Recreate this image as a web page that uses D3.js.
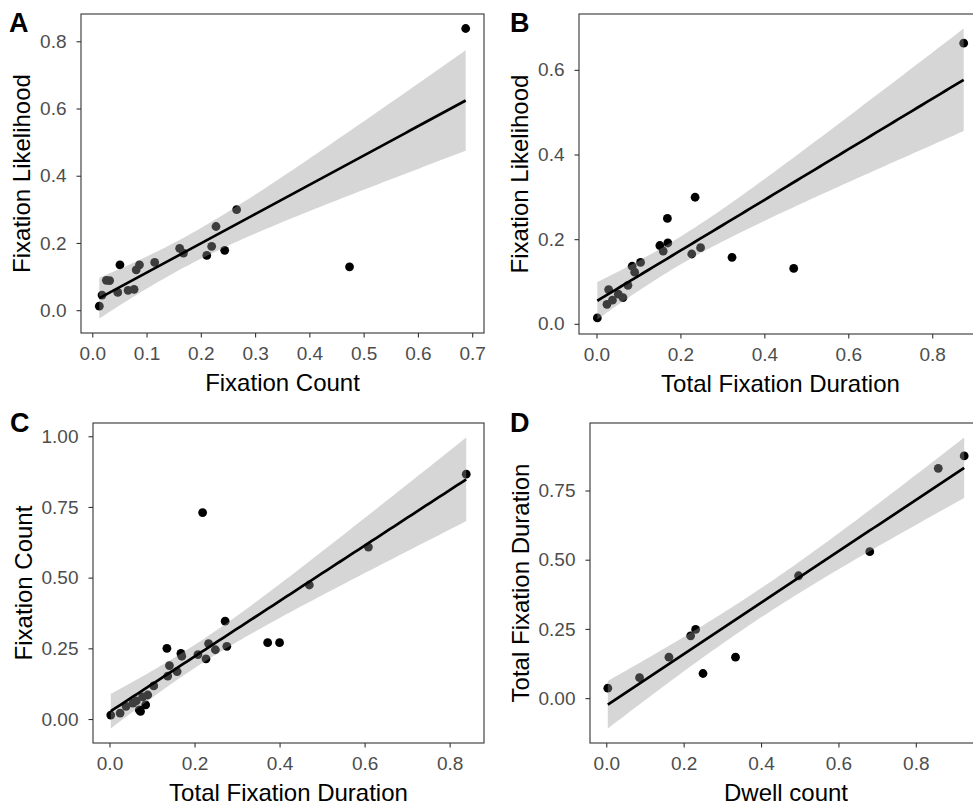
<!DOCTYPE html>
<html lang="en">
<head>
  <meta charset="UTF-8">
  <title>Fixation scatter plots</title>
  <script src="https://d3js.org/d3.v7.min.js"></script>
  <style>
    body { margin: 0; background: #fff; }
    svg { display: block; font-family: "Liberation Sans", Arial, sans-serif; }
  </style>
</head>
<body>
  <svg width="973" height="807"></svg>

  <script>
    // Panel A: Fixation Count vs Fixation Likelihood
    const aX = [0.688, 0.474, 0.266, 0.228, 0.244, 0.220, 0.211, 0.161, 0.168, 0.115,
                0.087, 0.081, 0.051, 0.026, 0.032, 0.047, 0.066, 0.077, 0.018, 0.013];
    const aY = [0.838, 0.129, 0.299, 0.249, 0.178, 0.190, 0.163, 0.184, 0.170, 0.142,
                0.135, 0.120, 0.135, 0.089, 0.088, 0.053, 0.059, 0.062, 0.045, 0.012];

    // Panel B: Total Fixation Duration vs Fixation Likelihood
    const bX = [0.875, 0.470, 0.323, 0.235, 0.227, 0.248, 0.169, 0.170, 0.151, 0.159,
                0.105, 0.085, 0.091, 0.075, 0.063, 0.052, 0.029, 0.038, 0.025, 0.002];
    const bY = [0.663, 0.131, 0.157, 0.299, 0.165, 0.180, 0.249, 0.191, 0.185, 0.172,
                0.145, 0.136, 0.122, 0.091, 0.062, 0.070, 0.081, 0.056, 0.046, 0.014];

    // Panel C: Total Fixation Duration vs Fixation Count
    const cX = [0.839, 0.219, 0.609, 0.470, 0.272, 0.372, 0.400, 0.276, 0.233, 0.249,
                0.227, 0.208, 0.135, 0.168, 0.170, 0.141, 0.137, 0.159, 0.104, 0.090,
                0.078, 0.085, 0.073, 0.070, 0.063, 0.055, 0.039, 0.025, 0.003];
    const cY = [0.866, 0.730, 0.608, 0.474, 0.346, 0.270, 0.270, 0.257, 0.267, 0.245,
                0.213, 0.228, 0.250, 0.232, 0.222, 0.189, 0.152, 0.168, 0.117, 0.085,
                0.078, 0.050, 0.027, 0.032, 0.064, 0.056, 0.045, 0.021, 0.014];

    // Panel D: Dwell count vs Total Fixation Duration
    const dX = [0.925, 0.858, 0.681, 0.497, 0.231, 0.218, 0.334, 0.250, 0.162, 0.086, 0.004];
    const dY = [0.875, 0.830, 0.529, 0.442, 0.248, 0.225, 0.148, 0.089, 0.148, 0.074, 0.036];

    // tick values
    const ticksTenth = [0, 0.1, 0.2, 0.3, 0.4, 0.5, 0.6, 0.7];
    const ticksFifth = [0, 0.2, 0.4, 0.6, 0.8];
    const ticksQuarter = [0, 0.25, 0.5, 0.75, 1.0];

    const fmt1 = d3.format(".1f");
    const fmt2 = d3.format(".2f");

    const panels = [
      { tag: "A", xs: aX, ys: aY, xLab: "Fixation Count", yLab: "Fixation Likelihood",
        xTicks: ticksTenth, yTicks: ticksFifth, xFmt: fmt1, yFmt: fmt1,
        left: 81, right: 484, top: 14, bottom: 333, tagX: 9, tagY: 32 },
      { tag: "B", xs: bX, ys: bY, xLab: "Total Fixation Duration", yLab: "Fixation Likelihood",
        xTicks: ticksFifth, yTicks: ticksFifth.slice(0, 4), xFmt: fmt1, yFmt: fmt1,
        left: 579, right: 982, top: 14, bottom: 334, tagX: 510, tagY: 32 },
      { tag: "C", xs: cX, ys: cY, xLab: "Total Fixation Duration", yLab: "Fixation Count",
        xTicks: ticksFifth, yTicks: ticksQuarter, xFmt: fmt1, yFmt: fmt2,
        left: 93, right: 484, top: 423, bottom: 743, tagX: 10, tagY: 432 },
      { tag: "D", xs: dX, ys: dY, xLab: "Dwell count", yLab: "Total Fixation Duration",
        xTicks: ticksFifth, yTicks: ticksQuarter.slice(0, 4), xFmt: fmt1, yFmt: fmt2,
        left: 590, right: 982, top: 423, bottom: 743, tagX: 510, tagY: 432 }
    ];

    // 97.5% quantile of Student t (Cornish-Fisher expansion)
    function tQuant(df) {
      const z = 1.959964;
      const g1 = (z ** 3 + z) / 4;
      const g2 = (5 * z ** 5 + 16 * z ** 3 + 3 * z) / 96;
      const g3 = (3 * z ** 7 + 19 * z ** 5 + 17 * z ** 3 - 15 * z) / 384;
      return z + g1 / df + g2 / df ** 2 + g3 / df ** 3;
    }

    // ordinary least squares with 95% confidence band
    function fitLm(xs, ys) {
      const n = xs.length;
      const mx = d3.mean(xs), my = d3.mean(ys);
      let sxx = 0, sxy = 0;
      xs.forEach((x, i) => { sxx += (x - mx) ** 2; sxy += (x - mx) * (ys[i] - my); });
      const b = sxy / sxx, a = my - b * mx;
      const rss = d3.sum(xs, (x, i) => (ys[i] - a - b * x) ** 2);
      const s = Math.sqrt(rss / (n - 2));
      const t = tQuant(n - 2);
      return x => {
        const fit = a + b * x;
        const e = t * s * Math.sqrt(1 / n + (x - mx) ** 2 / sxx);
        return { x: x, y: fit, lo: fit - e, hi: fit + e };
      };
    }

    const svg = d3.select("svg");
    svg.append("rect").attr("width", 973).attr("height", 807).attr("fill", "#fff");

    panels.forEach(p => {
      const predict = fitLm(p.xs, p.ys);
      const xExt = d3.extent(p.xs);
      const band = d3.range(80).map(i => predict(xExt[0] + (xExt[1] - xExt[0]) * i / 79));

      const xPad = (xExt[1] - xExt[0]) * 0.05;
      const x = d3.scaleLinear()
        .domain([xExt[0] - xPad, xExt[1] + xPad])
        .range([p.left, p.right]);

      const yMin = Math.min(d3.min(p.ys), d3.min(band, d => d.lo));
      const yMax = Math.max(d3.max(p.ys), d3.max(band, d => d.hi));
      const yPad = (yMax - yMin) * 0.05;
      const y = d3.scaleLinear()
        .domain([yMin - yPad, yMax + yPad])
        .range([p.bottom, p.top]);

      const g = svg.append("g");

      // points first, the ribbon is laid over them
      g.selectAll("circle")
        .data(p.xs.map((v, i) => [v, p.ys[i]]))
        .enter()
        .append("circle")
        .attr("cx", d => x(d[0]))
        .attr("cy", d => y(d[1]))
        .attr("r", 4.4)
        .attr("fill", "#000");

      g.append("path")
        .datum(band)
        .attr("d", d3.area().x(d => x(d.x)).y0(d => y(d.lo)).y1(d => y(d.hi)))
        .attr("fill", "#999999")
        .attr("fill-opacity", 0.4);

      g.append("path")
        .datum(band)
        .attr("d", d3.line().x(d => x(d.x)).y(d => y(d.y)))
        .attr("fill", "none")
        .attr("stroke", "#000")
        .attr("stroke-width", 2.7);

      // axes
      const xAxis = g.append("g")
        .attr("transform", "translate(0," + p.bottom + ")")
        .call(d3.axisBottom(x).tickValues(p.xTicks).tickFormat(p.xFmt).tickSize(4.5).tickPadding(9.5));
      const yAxis = g.append("g")
        .attr("transform", "translate(" + p.left + ",0)")
        .call(d3.axisLeft(y).tickValues(p.yTicks).tickFormat(p.yFmt).tickSize(4.5).tickPadding(10));

      [xAxis, yAxis].forEach(ax => {
        ax.select(".domain").remove();
        ax.selectAll("line").attr("stroke", "#333333").attr("stroke-width", 1.1);
        ax.selectAll("text")
          .attr("fill", "#4d4d4d")
          .style("font-size", "19px")
          .style("font-family", "'Liberation Sans', Arial, sans-serif");
      });

      // panel border
      g.append("rect")
        .attr("x", p.left).attr("y", p.top)
        .attr("width", p.right - p.left).attr("height", p.bottom - p.top)
        .attr("fill", "none")
        .attr("stroke", "#333333")
        .attr("stroke-width", 1.1);

      // axis titles
      g.append("text")
        .attr("x", (p.left + p.right) / 2)
        .attr("y", p.bottom + 58)
        .attr("text-anchor", "middle")
        .style("font-size", "24px")
        .attr("fill", "#000")
        .text(p.xLab);

      let maxW = 0;
      yAxis.selectAll("text").each(function () { maxW = Math.max(maxW, this.getComputedTextLength()); });
      const yTitleX = p.left - 14.5 - maxW - 10;
      g.append("text")
        .attr("transform", "translate(" + yTitleX + "," + (p.top + p.bottom) / 2 + ") rotate(-90)")
        .attr("text-anchor", "middle")
        .style("font-size", "24px")
        .attr("fill", "#000")
        .text(p.yLab);

      // panel tag
      svg.append("text")
        .attr("x", p.tagX)
        .attr("y", p.tagY)
        .style("font-size", "27px")
        .style("font-weight", "bold")
        .attr("fill", "#000")
        .text(p.tag);
    });
  </script>
</body>
</html>
